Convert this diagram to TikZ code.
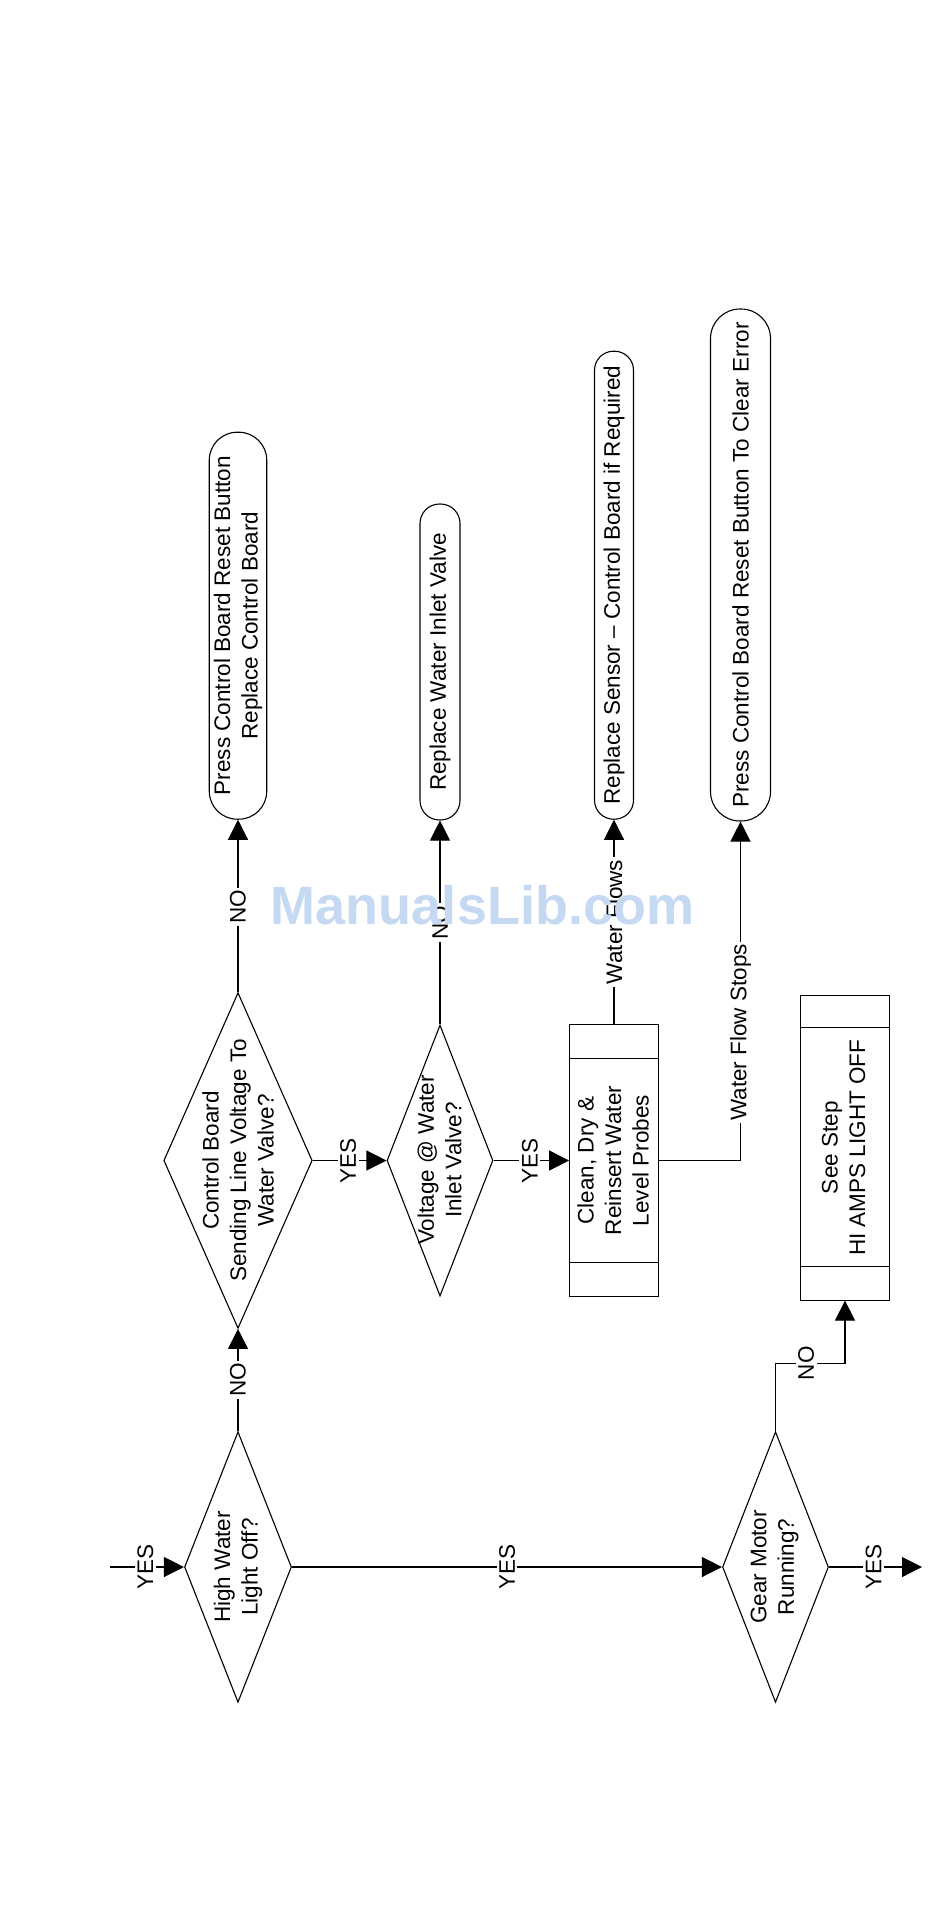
\documentclass[tikz,border=0pt]{standalone}
\usepackage{fontspec}
\setmainfont{Liberation Sans}
\usetikzlibrary{shapes.geometric,arrows.meta}
\definecolor{wmblue}{RGB}{197,217,243}
\begin{document}
\begin{tikzpicture}[x=1pt,y=-1pt,
  every node/.style={font=\fontsize{22.5}{27.5}\selectfont},
  ln/.style={line width=1.1pt},
  decision/.style={draw, diamond, inner sep=0pt, line width=1.1pt},
  term/.style={draw, rectangle, inner sep=0pt, line width=1.1pt},
  proc/.style={draw, rectangle, inner sep=0pt, line width=1.1pt},
  txt/.style={rotate=90, align=center, inner sep=0pt},
  lbl/.style={rotate=90, fill=white, inner sep=2.5pt},
  arr/.style={line width=1.1pt, -{Triangle[length=20pt,width=20pt]}}
]
\useasboundingbox (0,0) rectangle (950,1921);

% decisions
\node[decision, minimum width=107pt, minimum height=270.6pt] (hw) at (238,1567) {};
\node[decision, minimum width=106pt, minimum height=270.6pt] (gm) at (775.5,1567) {};
\node[decision, minimum width=148.5pt, minimum height=335.7pt] (cb) at (238,1160.5) {};
\node[decision, minimum width=106pt, minimum height=271pt] (v) at (440,1160.5) {};

% terminals
\node[term, rounded corners=28pt, minimum width=57.5pt, minimum height=387pt] (t1) at (238,625.7) {};
\node[term, rounded corners=19.5pt, minimum width=40pt, minimum height=316pt] (t2) at (440,662) {};
\node[term, rounded corners=19pt, minimum width=39pt, minimum height=468pt] (t3) at (614,585.2) {};
\node[term, rounded corners=29.5pt, minimum width=60pt, minimum height=512pt] (t4) at (740.5,565) {};

% processes
\node[proc, minimum width=88.7pt, minimum height=271.7pt] (p) at (614,1160.5) {};
\draw[ln] ([yshift=-34pt]p.north west) -- ([yshift=-34pt]p.north east);
\draw[ln] ([yshift=34pt]p.south west) -- ([yshift=34pt]p.south east);
\node[proc, minimum width=88.6pt, minimum height=304.7pt] (ss) at (845,1147.7) {};
\draw[ln] ([yshift=-33pt]ss.north west) -- ([yshift=-33pt]ss.north east);
\draw[ln] ([yshift=34pt]ss.south west) -- ([yshift=34pt]ss.south east);

% texts
\node[txt] (hw-t) at (hw.center) {High Water\\Light Off?};
\node[txt] (gm-t) at (774.5,1567) {Gear Motor\\Running?};
\node[txt] (cb-t) at (cb.center) {Control Board\\Sending Line Voltage To\\Water Valve?};
\node[txt] (v-t) at (439.5,1160) {Voltage @ Water\\Inlet Valve?};
\node[txt] (t1-t) at (t1.center) {Press Control Board Reset Button\\Replace Control Board};
\node[txt] (t2-t) at (t2.center) {Replace Water Inlet Valve};
\node[txt] (t3-t) at (t3.center) {Replace Sensor -- Control Board if Required};
\node[txt] (t4-t) at (t4.center) {Press Control Board Reset Button To Clear Error};
\node[txt] (p-t) at (613,1160.5) {Clean, Dry \&\\Reinsert Water\\Level Probes};
\node[txt] (ss-t) at (843.5,1147.7) {See Step\\HI AMPS LIGHT OFF};

% connectors
\coordinate (in) at (110,1567);
\coordinate (out) at (922,1567);
\draw[arr] (in) -- node[lbl, pos=0.48] {YES} (hw.west);
\draw[arr] (hw.north) -- node[lbl, pos=0.5] {NO} (cb.south);
\draw[arr] (hw.east) -- node[lbl, pos=0.5] {YES} (gm.west);
\draw[arr] (gm.east) -- node[lbl, pos=0.48] {YES} (out);
\draw[arr] (gm.north) -- ([yshift=68pt]gm.north) -| node[lbl, pos=0.22] {NO} (ss.south);
\draw[arr] (cb.north) -- node[lbl, pos=0.494] {NO} (t1.south);
\draw[arr] (cb.east) -- node[lbl, pos=0.48] {YES} (v.west);
\draw[arr] (v.north) -- node[lbl, pos=0.5] {NO} (t2.south);
\draw[arr] (v.east) -- node[lbl, pos=0.48] {YES} (p.west);
\draw[arr] (p.north) -- node[lbl, pos=0.5] {Water Flows} (t3.south);
\draw[arr] (p.east) -| node[lbl, pos=0.689] {Water Flow Stops} (t4.south);

% watermark
\node[font=\fontsize{54}{60}\selectfont\bfseries, text=wmblue, inner sep=0pt] (wm) at (482.5,905) {ManualsLib.com};
\end{tikzpicture}
\end{document}
